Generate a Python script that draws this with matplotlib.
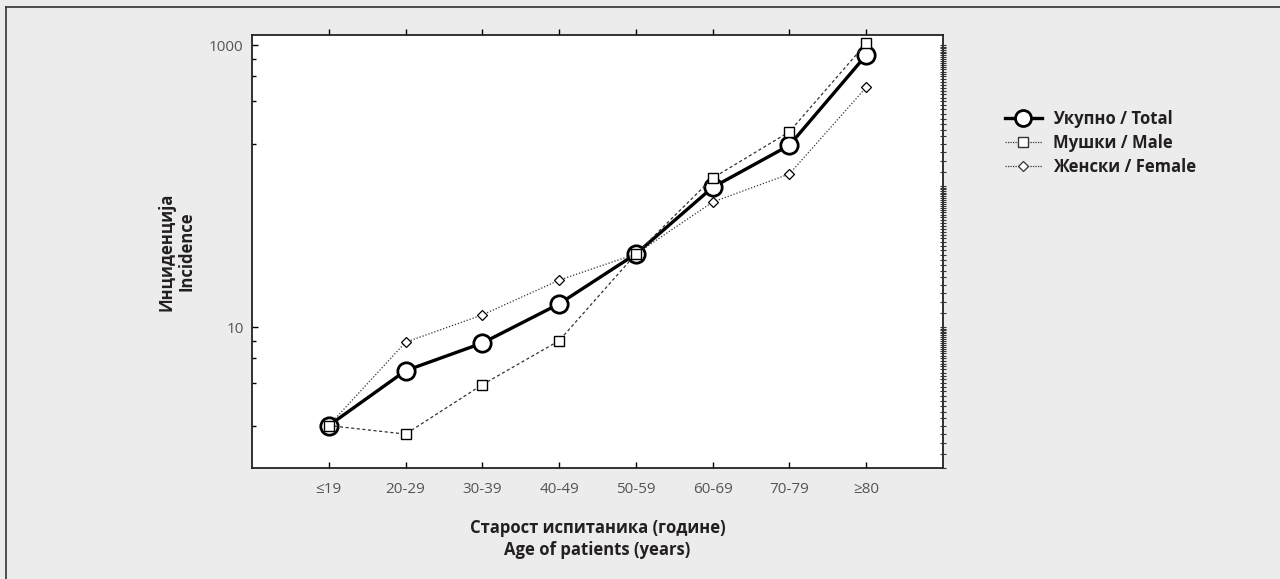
import numpy as np
import matplotlib.pyplot as plt
from matplotlib.lines import Line2D
from matplotlib.markers import TICKUP
from matplotlib.ticker import FixedLocator, LogLocator, NullFormatter

plt.rcParams['font.family'] = ['Open Sans', 'DejaVu Sans']

# data (log scale)
age_groups = ['≤19', '20-29', '30-39', '40-49', '50-59', '60-69', '70-79', '≥80']
total = [2.0, 4.9, 7.7, 14.6, 33, 98, 195, 850]
male = [2.0, 1.74, 3.9, 8.0, 33, 114, 243, 1030]
female = [2.0, 7.8, 12.2, 21.5, 33, 77, 122, 502]

series_labels = ['Укупно / Total', 'Мушки / Male', 'Женски / Female']

bg = '#ebeceb'
fig = plt.figure(figsize=(12.8, 5.79), dpi=100, facecolor=bg)
ax = fig.add_axes([252 / 1280, 1 - 468 / 579, 691 / 1280, 433 / 579])
ax.set_facecolor('white')

x = np.arange(len(age_groups))

ax.plot(x, total, color='black', linestyle='-', linewidth=2.4,
        marker='o', markersize=12.5, markerfacecolor='white',
        markeredgecolor='black', markeredgewidth=2.0, zorder=3)
ax.plot(x, female, color='#333333', linestyle=(0, (1, 1.5)), linewidth=0.9,
        marker='D', markersize=5, markerfacecolor='white',
        markeredgecolor='black', markeredgewidth=0.9, zorder=4)
ax.plot(x, male, color='#333333', linestyle=(0, (2.5, 2)), linewidth=0.9,
        marker='s', markersize=7.5, markerfacecolor='white',
        markeredgecolor='black', markeredgewidth=1.0, zorder=4)

ax.set_yscale('log')
ax.set_ylim(1, 1180)
ax.set_xlim(-1, 8)

ax.set_xticks(x)
ax.set_xticklabels(age_groups)
ax.yaxis.set_major_locator(FixedLocator([10, 1000]))
ax.yaxis.set_minor_locator(FixedLocator([2, 4, 6, 8, 200, 400, 600, 800]))
ax.yaxis.set_minor_formatter(NullFormatter())
ax.set_yticklabels(['10', '1000'])

ax.tick_params(axis='x', direction='in', length=4, width=1, top=True,
               labelsize=11, labelcolor='#555555', pad=10)
ax.tick_params(axis='y', which='major', direction='in', length=4, width=1,
               labelsize=11, labelcolor='#555555', pad=6)
ax.tick_params(axis='y', which='minor', direction='in', length=3, width=1)

# top ticks point outward
for tk in ax.xaxis.get_major_ticks():
    tk.tick2line.set_marker(TICKUP)

for sp in ax.spines.values():
    sp.set_linewidth(1.3)
    sp.set_color('#222222')

# right spine with dense log ticks
ax2 = ax.twinx()
ax2.set_yscale('log')
ax2.set_ylim(ax.get_ylim())
ax2.yaxis.set_major_locator(LogLocator(base=10, numticks=10))
ax2.yaxis.set_minor_locator(LogLocator(base=10, subs=np.arange(1.0, 10.0, 0.25), numticks=40))
ax2.yaxis.set_major_formatter(NullFormatter())
ax2.yaxis.set_minor_formatter(NullFormatter())
ax2.tick_params(axis='y', which='both', direction='inout', length=4, width=0.8,
                colors='#333333')
for sp in ax2.spines.values():
    sp.set_visible(False)

ax.set_xlabel('Старост испитаника (године)\nAge of patients (years)',
              fontsize=12, fontweight='bold', color='#231f20', labelpad=16,
              linespacing=1.3)
ax.set_ylabel('Инциденција\nIncidence', fontsize=12, fontweight='bold',
              color='#231f20', labelpad=10, linespacing=1.15)

handles = [
    Line2D([0], [0], color='black', linewidth=2.4, marker='o', markersize=11.5,
           markerfacecolor='white', markeredgewidth=2.0),
    Line2D([0], [0], color='#333333', linestyle=(0, (1, 1)), linewidth=0.9,
           marker='s', markersize=7, markerfacecolor='white', markeredgewidth=1.0),
    Line2D([0], [0], color='#333333', linestyle=(0, (1, 1)), linewidth=0.9,
           marker='D', markersize=5, markerfacecolor='white', markeredgewidth=0.9),
]
leg = fig.legend(handles, series_labels, loc='upper left',
                 bbox_to_anchor=(990 / 1280, 1 - 95 / 579), frameon=False,
                 handlelength=2.2, handletextpad=0.7, labelspacing=0.35,
                 prop={'size': 12, 'weight': 'bold'})
for t in leg.get_texts():
    t.set_color('#231f20')

# border lines top and left of the figure
fig.add_artist(Line2D([6 / 1280, 1], [1 - 7 / 579, 1 - 7 / 579], color='#333333',
                      linewidth=1.2, transform=fig.transFigure))
fig.add_artist(Line2D([6 / 1280, 6 / 1280], [0, 1 - 7 / 579], color='#333333',
                      linewidth=1.2, transform=fig.transFigure))

fig.savefig('out.png', dpi=100, facecolor=bg)
